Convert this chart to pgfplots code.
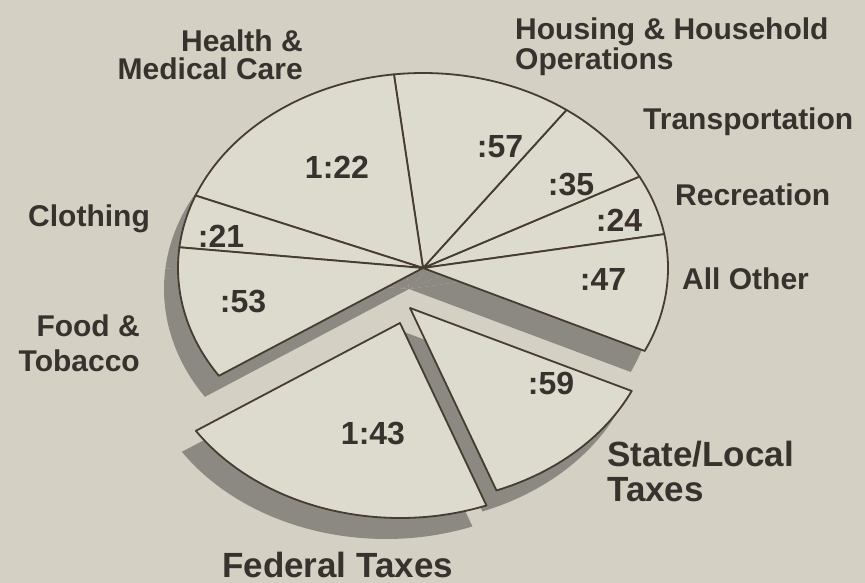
\documentclass[border=0pt]{standalone}
\usepackage{fontspec}
\setmainfont{Liberation Sans}
\usepackage{pgfplots}
\usepackage{pgfplotstable}
\pgfplotsset{compat=1.18}
\definecolor{bgpaper}{HTML}{D4D0C3}
\definecolor{wedgec}{HTML}{DDDACE}
\definecolor{shadowc}{HTML}{8C8882}
\definecolor{edgec}{HTML}{463C32}
\definecolor{textc}{HTML}{37322D}

% minutes of an 8-hour working day, counter-clockwise from the Recreation/All Other border
% dx, dy: explosion offset of a slice (bp)
\pgfplotstableread{
label minutes dx dy
Recreation 24 0 0
Transportation 35 0 0
Housing 57 0 0
Health 82 0 0
Clothing 21 0 0
Food 53 0 0
Federal 103 -23 -55
State 59 -13 -40
Other 47 0 0
}\piedata

\def\startang{10}
\def\total{481}
\def\pcx{423}
\def\pcy{315}

\newcommand\drawpie[3]{%
  \xdef\curang{\startang}%
  \pgfplotsforeachungrouped \i in {0,...,8} {%
    \pgfplotstablegetelem{\i}{minutes}\of{\piedata}\let\m\pgfplotsretval
    \pgfplotstablegetelem{\i}{dx}\of{\piedata}\let\ddx\pgfplotsretval
    \pgfplotstablegetelem{\i}{dy}\of{\piedata}\let\ddy\pgfplotsretval
    \pgfmathsetmacro\angA{\curang}%
    \pgfmathsetmacro\angB{\curang+\m*(360/\total)}%
    \pgfmathsetmacro\cx{\pcx+\ddx+#2}%
    \pgfmathsetmacro\cy{\pcy+\ddy+#3}%
    \pgfmathsetmacro\px{\cx+245*cos(\angA)}%
    \pgfmathsetmacro\py{\cy+195*sin(\angA)}%
    \edef\temp{\noexpand\path[#1] (axis cs:\cx,\cy) -- (axis cs:\px,\py) arc[start angle=\angA, end angle=\angB, x radius=245bp, y radius=195bp] -- cycle;}%
    \temp
    \xdef\curang{\angB}%
  }%
}

\begin{document}
\begin{tikzpicture}
\begin{axis}[scale only axis, width=865bp, height=583bp,
  xmin=0, xmax=865, ymin=0, ymax=583, hide axis, clip=false]
\fill[bgpaper] (axis cs:0,0) rectangle (axis cs:865,583);
\drawpie{fill=shadowc}{-14}{-21}
\drawpie{fill=wedgec,draw=edgec,line width=1.8bp,line join=round}{0}{0}

\begin{scope}[every node/.style={text=textc, inner sep=0pt, font=\bfseries\fontsize{30bp}{30bp}\selectfont}]
% values
\begin{scope}[every node/.append style={font=\bfseries\fontsize{32bp}{32bp}\selectfont}]
\node at (axis cs:337,416) {1:22};
\node at (axis cs:500,436) {:57};
\node at (axis cs:571,398) {:35};
\node at (axis cs:619,363) {:24};
\node at (axis cs:603,304) {:47};
\node at (axis cs:221,347) {:21};
\node at (axis cs:243,281) {:53};
\node at (axis cs:551,200) {:59};
\node at (axis cs:373,149) {1:43};
\end{scope}
% categories
\node[anchor=base east] at (axis cs:303,531) {Health \&};
\node[anchor=base east] at (axis cs:303,503) {Medical Care};
\node[anchor=base west] at (axis cs:515,543) {Housing \& Household};
\node[anchor=base west] at (axis cs:515,513) {Operations};
\node[anchor=base west] at (axis cs:643,453) {Transportation};
\node[anchor=base west] at (axis cs:675,377) {Recreation};
\node[anchor=base west] at (axis cs:682,293) {All Other};
\node[anchor=base west] at (axis cs:28,356) {Clothing};
\node[anchor=base east] at (axis cs:140,246) {Food \&};
\node[anchor=base east] at (axis cs:140,211) {Tobacco};
\node[anchor=base west, font=\bfseries\fontsize{35bp}{35bp}\selectfont] at (axis cs:607,116) {State/Local};
\node[anchor=base west, font=\bfseries\fontsize{35bp}{35bp}\selectfont] at (axis cs:607,81) {Taxes};
\node[anchor=base west, font=\bfseries\fontsize{35bp}{35bp}\selectfont] at (axis cs:222,6) {Federal Taxes};
\end{scope}
\end{axis}
\end{tikzpicture}
\end{document}
